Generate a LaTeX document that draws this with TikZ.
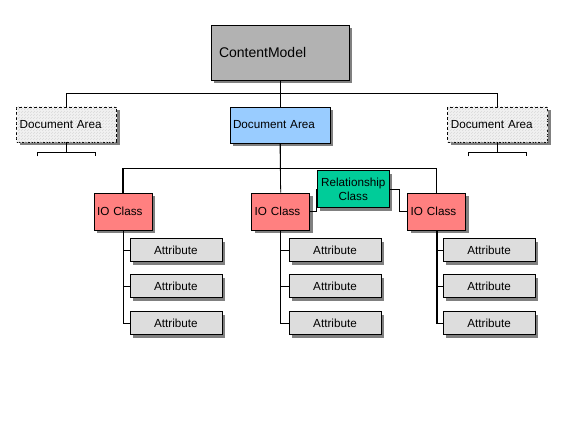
\documentclass[tikz,border=0pt]{standalone}
\usepackage{fontspec}
\setmainfont{Liberation Sans}
\usetikzlibrary{positioning,shadows,patterns}
\definecolor{modelgray}{HTML}{B2B2B2}
\definecolor{areablue}{HTML}{99CCFF}
\definecolor{ghostfill}{HTML}{F2F2F2}
\definecolor{classred}{HTML}{FF8080}
\definecolor{relgreen}{HTML}{00CC99}
\definecolor{attrgray}{HTML}{DDDDDD}
\definecolor{shadowgray}{HTML}{808080}
\tikzset{
  box/.style={rectangle, draw=black, line width=0.8pt, inner sep=0pt, font=\fontsize{11.7}{14}\selectfont,
    drop shadow={shadow xshift=3pt, shadow yshift=-3pt, fill=shadowgray, opacity=1}},
  model/.style={box, fill=modelgray, font=\fontsize{14}{16}\selectfont, minimum height=55pt, text width=122pt, inner xsep=8pt, align=left},
  area/.style={box, fill=areablue, minimum height=36pt, text width=94pt, inner xsep=3pt, align=left},
  ghost/.style={box, fill=ghostfill, dash pattern=on 3pt off 2pt, minimum height=35pt, text width=94pt, inner xsep=3pt, align=left,
    postaction={pattern=north east lines, pattern color=gray!30}},
  ioclass/.style={box, fill=classred, minimum height=37pt, text width=52pt, inner xsep=3pt, align=left},
  relbox/.style={box, fill=relgreen, minimum height=37pt, text width=66pt, inner xsep=3pt, align=center},
  attrib/.style={box, fill=attrgray, minimum width=92pt, minimum height=23pt, align=center},
  link/.style={draw=black, line width=0.8pt},
  thicklink/.style={draw=black, line width=1.6pt}
}
\begin{document}
\begin{tikzpicture}[x=1pt,y=-1pt]
\useasboundingbox (0,0) rectangle (567,425);

% Top of the model
\node[model] (cm) at (280,52.5) {ContentModel};
\node[ghost] (daL) at (66.7,124.5) {Document Area};
\node[area] (da) at (280,125) {Document Area};
\node[ghost] (daR) at (497.8,124.5) {Document Area};

\draw[link] (cm.south) -- (da.north);
\draw[link] (cm.south) -- ++(0,13) -| (daL.north);
\draw[link] (cm.south) -- ++(0,13) -| (daR.north);

% Folded branches under the dashed areas
\foreach \n in {daL,daR} {
  \coordinate (stub\n) at ([yshift=-10pt]\n.south);
  \draw[link] (\n.south) -- (stub\n);
  \draw[link] ([xshift=-29pt,yshift=-4pt]stub\n) -- ([xshift=-29pt]stub\n) -- ([xshift=29pt]stub\n) -- ([xshift=29pt,yshift=-4pt]stub\n);
}

% Classes
\node[ioclass] (io1) at (123,211.5) {IO Class};
\node[ioclass] (io2) at (280.7,211.5) {IO Class};
\node[ioclass] (io3) at (436.7,211.5) {IO Class};
\node[relbox] (rel) at (353.3,189) {Relationship\\Class};

\coordinate (bus) at ([yshift=-25pt]da.south);
\draw[link] (da.south) -- (io2.north);
\draw[link] (da.south) -- (bus) -| (io1.north);
\draw[link] (bus) -| (io3.north);
\draw[thicklink] (io1.north) -- (io1.north |- bus);

\draw[link] (io2.east) -- ++(6,0) |- (rel.west);
\draw[link] (rel.east) -- ++(10,0) |- (io3.west);

% Attributes
\foreach \i/\x in {1/175.9,2/335,3/489.2} {
  \foreach \j/\y in {1/250,2/286.2,3/323} {
    \node[attrib] (a\i\j) at (\x,\y) {Attribute};
    \draw[link] (io\i.south) |- (a\i\j.west);
  }
}
\draw[thicklink] (io3.south) -- (io3.south |- a33.west);

\end{tikzpicture}
\end{document}
